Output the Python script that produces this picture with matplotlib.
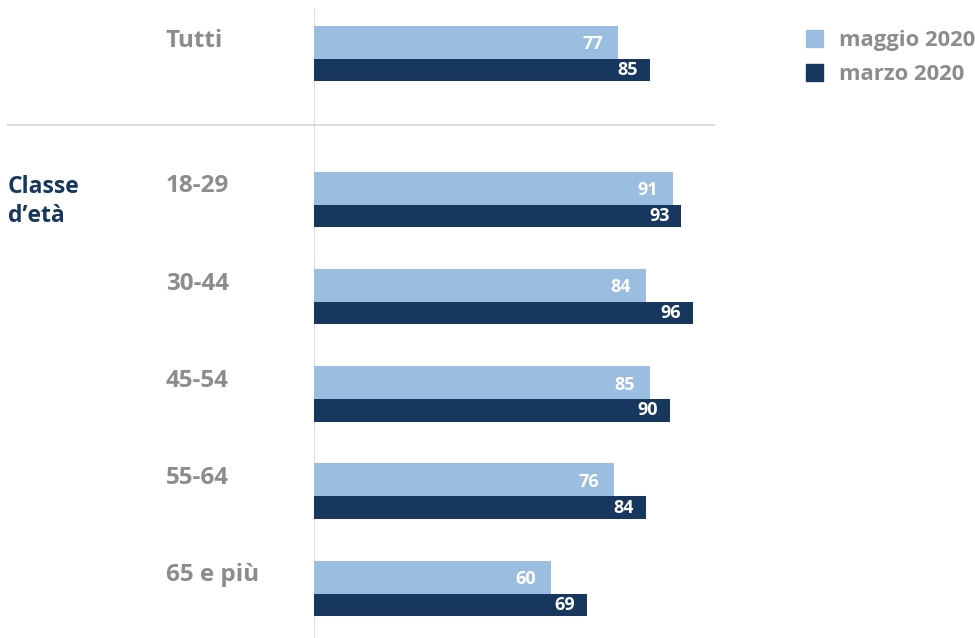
import numpy as np
import matplotlib.pyplot as plt
from matplotlib.patches import Patch
import matplotlib.transforms as mtransforms

categorie = ['Tutti', '18-29', '30-44', '45-54', '55-64', '65 e più']
maggio = [77, 91, 84, 85, 76, 60]
marzo = [85, 93, 96, 90, 84, 69]
serie = ['maggio 2020', 'marzo 2020']

c_light = '#9bbde0'
c_dark = '#17375e'
c_grey = '#8c8c8c'
c_line = '#dcdcdc'

plt.rcParams['font.family'] = ['Open Sans', 'DejaVu Sans']
plt.rcParams['font.weight'] = 'bold'

fig = plt.figure(figsize=(9.75, 6.38), dpi=100)
W, H = 975, 638
s = 97.2    # pixels per group step
top = 26    # pixel y of the first bar
ax = fig.add_axes([314 / W, 0, 400 / W, 1])
ax.set_xlim(0, 400 / 3.95)
ax.set_ylim((H - top) / s, -top / s)
ax.axis('off')

pos = np.array([0, 1.5, 2.5, 3.5, 4.5, 5.5])
h1, h2 = 0.34, 0.23

ax.barh(pos, maggio, height=h1, align='edge', color=c_light)
ax.barh(pos + h1, marzo, height=h2, align='edge', color=c_dark)

for p, a, b in zip(pos, maggio, marzo):
    ax.text(a - 3.8, p + h1 / 2 + 0.02, str(a), color='white', fontsize=13,
            fontweight='bold', ha='right', va='center')
    ax.text(b - 3.0, p + h1 + h2 / 2, str(b), color='white', fontsize=13,
            fontweight='bold', ha='right', va='center')

# category labels
tr = mtransforms.blended_transform_factory(fig.transFigure, ax.transData)
for p, c in zip(pos, categorie):
    ax.text(166 / W, p + 0.15, c, transform=tr, color=c_grey, fontsize=17.5,
            fontweight='bold', ha='left', va='center')

ax.text(8 / W, pos[1] + 0.03, 'Classe\nd\u2019età', transform=tr, color=c_dark,
        fontsize=16.5, fontweight='bold', ha='left', va='top', linespacing=1.3)

# grid lines
ax.axvline(0, ymin=0, ymax=1 - 10 / H, color=c_line, lw=1.5, zorder=0)
ax.plot([8 / W, 714 / W], [(125 - top) / s] * 2, transform=tr, color=c_line,
        lw=1.5, clip_on=False)

handles = [Patch(color=c_light), Patch(color=c_dark)]
fig.legend(handles, serie, loc='upper left', bbox_to_anchor=(786 / W, 1 - 10 / H),
           frameon=False, handlelength=0.8, handleheight=0.8,
           handletextpad=0.7, labelspacing=0.6, labelcolor=c_grey,
           prop={'weight': 'bold', 'size': 15.8})

fig.savefig('out.png', dpi=100)
